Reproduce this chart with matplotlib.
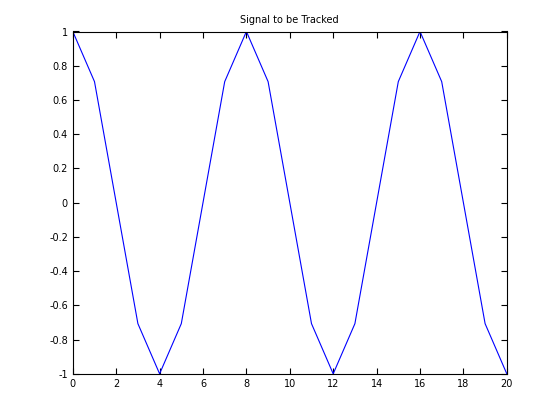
import matplotlib
matplotlib.use('Agg')
import matplotlib.pyplot as plt

# samples
x_values = list(range(21))
y_values = [1, 0.707, 0, -0.707, -1, -0.707, 0, 0.707, 1, 0.707, 0,
            -0.707, -1, -0.707, 0, 0.707, 1, 0.707, 0, -0.707, -1]
x_ticks = list(range(0, 21, 2))
y_ticks = [-1, -0.8, -0.6, -0.4, -0.2, 0, 0.2, 0.4, 0.6, 0.8, 1]

plt.rc('font', size=7)

fig = plt.figure(figsize=(5.6, 4.2), dpi=100)
ax = fig.add_axes([0.13, 0.11, 0.775, 0.815])

ax.plot(x_values, y_values, color='#0000ff', linewidth=0.8)

ax.set_xlim(0, 20)
ax.set_ylim(-1, 1)
ax.set_xticks(x_ticks)
ax.set_yticks(y_ticks)
ax.set_yticklabels(['-1', '-0.8', '-0.6', '-0.4', '-0.2', '0',
                    '0.2', '0.4', '0.6', '0.8', '1'])
ax.tick_params(direction='in', top=True, right=True, length=4, width=0.8)
for s in ax.spines.values():
    s.set_linewidth(0.8)

ax.set_title('Signal to be Tracked', fontsize=7)

fig.savefig('out.png', dpi=100)
